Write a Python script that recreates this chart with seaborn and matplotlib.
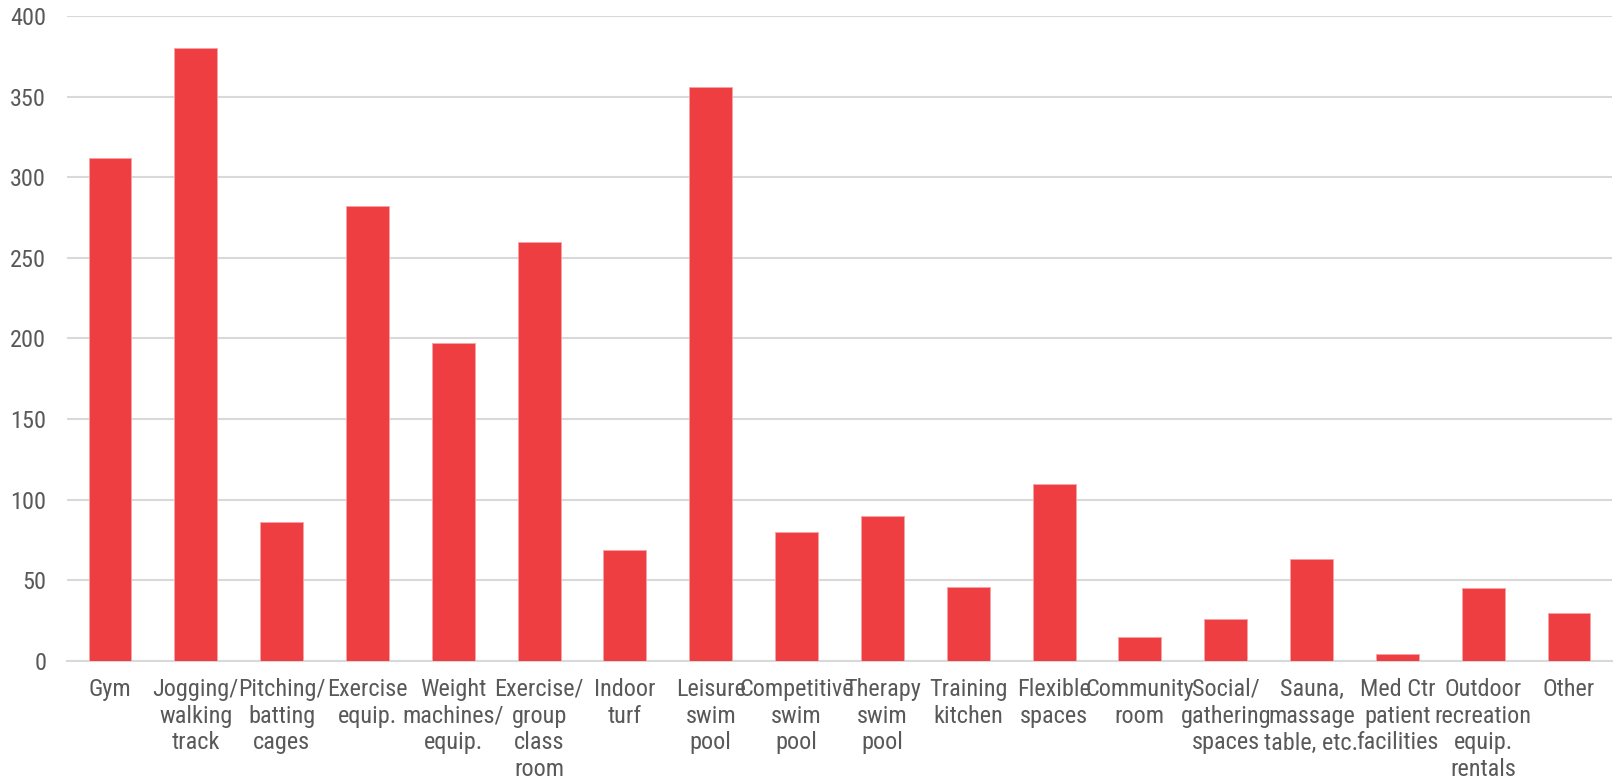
import matplotlib
matplotlib.use("Agg")
import matplotlib.pyplot as plt
from matplotlib import font_manager as fm
import seaborn as sns
import pandas as pd

categories = [
    "Gym", "Jogging/\nwalking\ntrack", "Pitching/\nbatting\ncages", "Exercise\nequip.",
    "Weight\nmachines/\nequip.", "Exercise/\ngroup\nclass\nroom", "Indoor\nturf",
    "Leisure\nswim\npool", "Competitive\nswim\npool", "Therapy\nswim\npool",
    "Training\nkitchen", "Flexible\nspaces", "Community\nroom", "Social/\ngathering\nspaces",
    "Sauna,\nmassage\ntable, etc.", "Med Ctr\npatient\nfacilities",
    "Outdoor\nrecreation\nequip.\nrentals", "Other",
]
values = [312, 380, 86, 282, 197, 260, 69, 356, 80, 90, 46, 110, 15, 26, 63, 4, 45, 30]
y_ticks = [0, 50, 100, 150, 200, 250, 300, 350, 400]

sns.set_theme(style="white")

available = {f.name for f in fm.fontManager.ttflist}
prefs = ["Roboto Condensed", "Liberation Sans Narrow", "Arimo Narrow", "Archivo Narrow",
         "PT Sans Narrow", "Open Sans Condensed", "Encode Sans Condensed", "Pragati Narrow"]
chosen = next((p for p in prefs if p in available), None)
stretch = "normal"
if chosen is None:
    chosen = "Open Sans"
    stretch = "condensed"
plt.rcParams['font.family'] = [chosen, 'DejaVu Sans']
plt.rcParams['font.stretch'] = stretch

df = pd.DataFrame({"cat": categories, "val": values})

fig = plt.figure(figsize=(16.2, 7.84), dpi=100)
ax = fig.add_axes([0.0414, 0.157, 0.9536, 0.8226])
sns.barplot(data=df, x="cat", y="val", color="#EF3E42", saturation=1, width=0.5,
            edgecolor="#F5A3A5", linewidth=0.6, ax=ax, zorder=3)

ax.set_ylim(0, 400)
ax.set_xlim(-0.5, len(categories) - 0.5)
ax.set_yticks(y_ticks)
ax.yaxis.grid(True, color="#D9D9D9", linewidth=1.5, zorder=0)
ax.set_axisbelow(True)
for s in ["top", "right", "left"]:
    ax.spines[s].set_visible(False)
ax.spines["bottom"].set_color("#D9D9D9")
ax.spines["bottom"].set_linewidth(1.5)
ax.set_xlabel("")
ax.set_ylabel("")
ax.tick_params(axis="both", length=0, colors="#595959", labelsize=17.5)
ax.tick_params(axis="x", pad=12)
ax.tick_params(axis="y", pad=15)
for lab in ax.get_xticklabels() + ax.get_yticklabels():
    lab.set_fontstretch(stretch)
for lab in ax.get_xticklabels():
    lab.set_linespacing(1.22)
    lab.set_verticalalignment("top")

fig.savefig("out.png", dpi=100)
